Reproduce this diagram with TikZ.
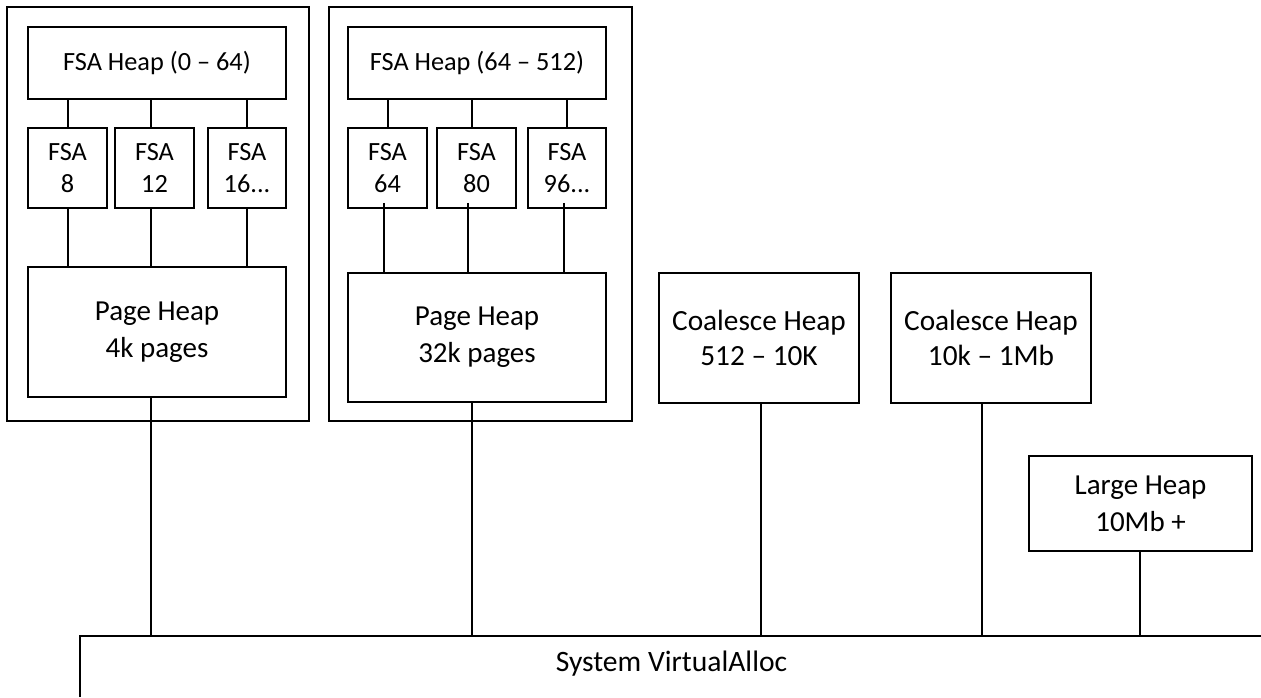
\documentclass[tikz,border=0pt]{standalone}
\usepackage{fontspec}
\setmainfont{Carlito}
\begin{document}
\begin{tikzpicture}[x=1pt,y=-1pt,
  box/.style={draw=black,line width=1.8pt,inner sep=0pt,align=center,anchor=center},
  link/.style={draw=black,line width=1.8pt},
  fsaf/.style={font=\fontsize{26.3}{32}\selectfont},
  pagef/.style={font=\fontsize{29}{37}\selectfont},
  coalf/.style={font=\fontsize{29.3}{35}\selectfont},
  largef/.style={font=\fontsize{29}{37}\selectfont},
  sysf/.style={font=\fontsize{29.6}{36}\selectfont}]
\useasboundingbox (0,0) rectangle (1261,697);
% left group
\node[box,minimum width=302pt,minimum height=414pt] (outerA) at (158,214) {};
\node[box,fsaf,minimum width=258pt,minimum height=72pt] (fsahA) at (157,63) {FSA Heap (0 – 64)};
\node[box,fsaf,minimum width=79pt,minimum height=80pt] (fa1) at (67.5,168) {FSA\\8};
\node[box,fsaf,minimum width=79pt,minimum height=80pt] (fa2) at (154.5,168) {FSA\\12};
\node[box,fsaf,minimum width=78pt,minimum height=80pt] (fa3) at (247,168) {FSA\\16...};
\node[box,pagef,minimum width=258pt,minimum height=130pt] (pageA) at (157,332) {Page Heap\\4k pages};
% right group
\node[box,minimum width=303pt,minimum height=414pt] (outerB) at (480.5,214) {};
\node[box,fsaf,minimum width=258pt,minimum height=72pt] (fsahB) at (477,63) {FSA Heap (64 – 512)};
\node[box,fsaf,minimum width=79pt,minimum height=80pt] (fb1) at (387.5,168) {FSA\\64};
\node[box,fsaf,minimum width=79pt,minimum height=80pt] (fb2) at (476.5,168) {FSA\\80};
\node[box,fsaf,minimum width=78pt,minimum height=80pt] (fb3) at (567,168) {FSA\\96...};
\node[box,pagef,minimum width=258pt,minimum height=129pt] (pageB) at (477,337.5) {Page Heap\\32k pages};
% other heaps
\node[box,coalf,minimum width=200pt,minimum height=130pt] (coalA) at (759,338) {Coalesce Heap\\512 – 10K};
\node[box,coalf,minimum width=200pt,minimum height=130pt] (coalB) at (991,338) {Coalesce Heap\\10k – 1Mb};
\node[box,largef,minimum width=223pt,minimum height=95pt] (large) at (1140.5,503.5) {Large Heap\\10Mb +};
% system
\coordinate (busL) at (80,636);
\coordinate (busR) at (1261,636);
\coordinate (busB) at (80,697);
\node[sysf,inner sep=0pt] (sys) at (671.5,664) {System VirtualAlloc};
\draw[link] (busB) -- (busL) -- (busR);
% connectors left group
\draw[link] (fa1.north -| 68,0) -- (fsahA.south -| 68,0);
\draw[link] ([xshift=-3.5pt]fa2.north) -- (fsahA.south -| 151,0);
\draw[link] (fa3.north) -- (fa3.north |- fsahA.south);
\draw[link] (fa1.south -| 68,0) -- (pageA.north -| 68,0);
\draw[link] ([xshift=-3.5pt]fa2.south) -- (pageA.north -| 151,0);
\draw[link] (fa3.south) -- (fa3.south |- pageA.north);
\draw[link] (pageA.south -| 151,0) -- (busL -| 151,0);
% connectors right group
\draw[link] (fb1.north -| 388,0) -- (fsahB.south -| 388,0);
\draw[link] ([xshift=-4.5pt]fb2.north) -- (fsahB.south -| 472,0);
\draw[link] (fb3.north) -- (fb3.north |- fsahB.south);
\draw[link] ([yshift=6pt]fb1.south -| 384,0) -- (pageB.north -| 384,0);
\draw[link] ([yshift=6pt]fb2.south -| 468,0) -- (pageB.north -| 468,0);
\draw[link] ([yshift=6pt]fb3.south -| 564,0) -- (pageB.north -| 564,0);
\draw[link] (pageB.south -| 472,0) -- (busL -| 472,0);
% connectors other heaps
\draw[link] (coalA.south -| 761,0) -- (busL -| 761,0);
\draw[link] (coalB.south -| 982,0) -- (busL -| 982,0);
\draw[link] (large.south -| 1140,0) -- (busL -| 1140,0);
\end{tikzpicture}
\end{document}
